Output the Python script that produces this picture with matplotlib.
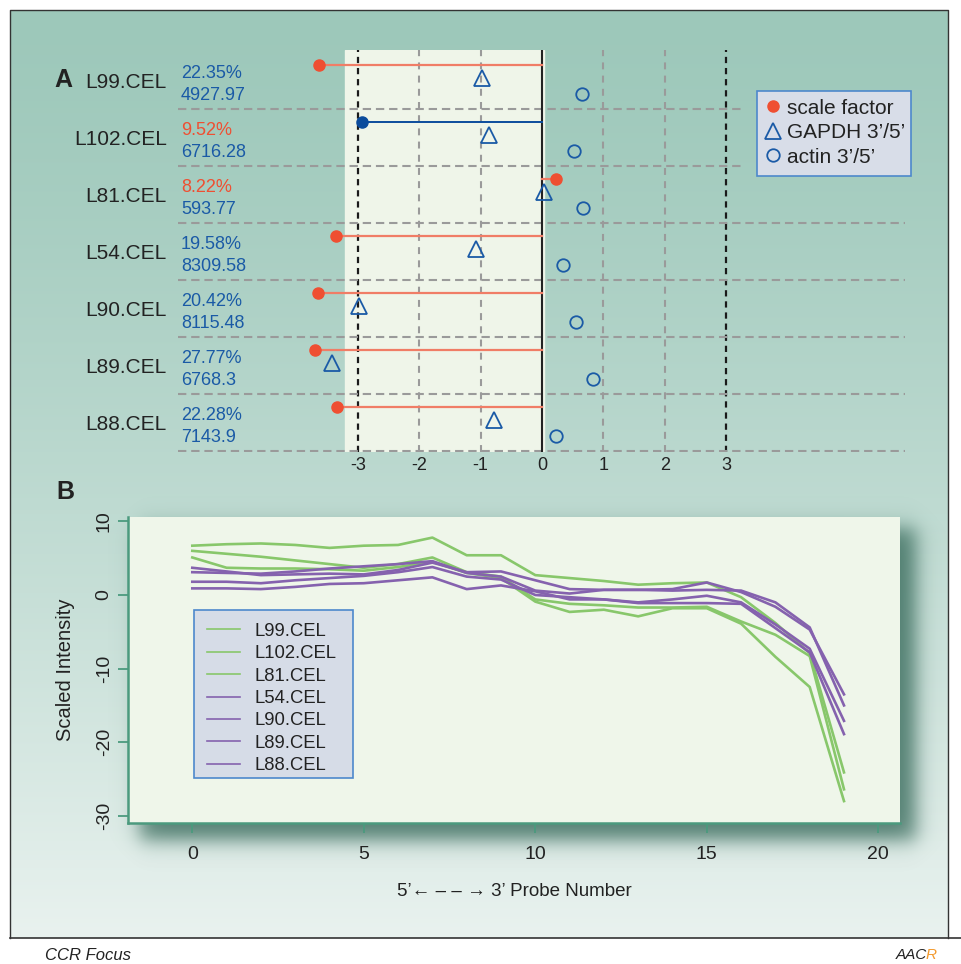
import numpy as np
import matplotlib
matplotlib.use('Agg')
import matplotlib.pyplot as plt
from matplotlib.colors import to_rgb
from matplotlib.lines import Line2D
from matplotlib.patches import Rectangle

plt.rcParams['font.family'] = ['Liberation Sans', 'DejaVu Sans']
plt.rcParams['axes.unicode_minus'] = False
plt.rcParams['lines.scale_dashes'] = False

# ---- panel A data ----
samples = ['L99.CEL', 'L102.CEL', 'L81.CEL', 'L54.CEL', 'L90.CEL', 'L89.CEL', 'L88.CEL']
pct_present = [22.35, 9.52, 8.22, 19.58, 20.42, 27.77, 22.28]
background = ['4927.97', '6716.28', '593.77', '8309.58', '8115.48', '6768.3', '7143.9']
scale_factor = [-3.64, -2.93, 0.23, -3.36, -3.65, -3.70, -3.34]
gapdh = [-0.98, -0.87, 0.04, -1.08, -2.99, -3.43, -0.79]
actin = [0.65, 0.52, 0.67, 0.35, 0.55, 0.83, 0.23]
sf_ok = [False, True, False, False, False, False, False]

# ---- panel B data ----
probe = list(range(20))
intensity = {
    'L99.CEL':  [6.7, 6.9, 7.0, 6.8, 6.4, 6.7, 6.8, 7.8, 5.4, 5.4, 2.7, 2.3, 1.9, 1.4, 1.6, 1.7, -0.3, -3.8, -7.9, -24.1],
    'L102.CEL': [6.0, 5.6, 5.2, 4.7, 4.2, 3.7, 4.2, 5.1, 3.1, 2.5, -0.6, -1.2, -1.4, -1.7, -1.7, -1.6, -3.6, -5.4, -8.3, -26.4],
    'L81.CEL':  [5.1, 3.7, 3.6, 3.6, 3.5, 3.3, 3.8, 4.5, 3.0, 2.3, -0.9, -2.3, -2.0, -2.9, -1.8, -1.8, -3.9, -8.4, -12.5, -28.0],
    'L54.CEL':  [3.7, 3.2, 2.7, 2.8, 2.9, 2.8, 3.4, 4.4, 3.1, 3.2, 2.0, 0.8, 0.7, 0.7, 0.8, 1.7, 0.4, -1.6, -4.7, -13.5],
    'L90.CEL':  [3.1, 3.0, 2.9, 3.2, 3.6, 3.9, 4.2, 4.6, 3.0, 2.5, 0.6, 0.2, 0.7, 0.7, 0.6, 0.7, 0.6, -1.0, -4.4, -15.0],
    'L89.CEL':  [1.8, 1.8, 1.6, 2.0, 2.3, 2.6, 3.1, 3.8, 2.5, 2.1, 0.0, -0.3, -0.6, -1.0, -0.6, -0.1, -1.0, -4.0, -7.3, -17.1],
    'L88.CEL':  [0.9, 0.9, 0.8, 1.1, 1.5, 1.6, 2.0, 2.4, 0.8, 1.3, 0.5, -0.6, -0.6, -1.1, -1.1, -1.1, -1.2, -4.5, -7.8, -18.9],
}
line_colors = ['#88c76b'] * 3 + ['#8562ae'] * 4

red = '#ef4f32'
red_line = '#f07d66'
blue = '#1a5aa6'
dark_blue = '#0b4c9c'

W, H = 961, 964
fig = plt.figure(figsize=(W / 100, H / 100), dpi=100)
fig.patch.set_facecolor('white')


def px_box(x0, y0, x1, y1):
    # figure-fraction rectangle from pixel corners (y measured from the top)
    return (x0 / W, 1 - y1 / H, (x1 - x0) / W, (y1 - y0) / H)


# background layer in pixel coordinates
bg = fig.add_axes([0, 0, 1, 1], zorder=0)
top = np.array(to_rgb('#9dc8ba'))
bot = np.array(to_rgb('#e9f2ef'))
t = (np.linspace(0, 1, 256) ** 1.3)[:, None, None]
grad = top + (bot - top) * t
bg.imshow(grad, extent=(10, 948, 938, 10), aspect='auto', interpolation='bilinear')

# drop shadow behind panel B
yy, xx = np.mgrid[0:H, 0:W] + 0.5
def ramp(v, a, b, s):
    return 1 / (1 + np.exp(-(v - a) / s)) / (1 + np.exp((v - b) / s))
shadow = np.zeros((H, W, 4))
shadow[..., :3] = to_rgb('#3b6d5e')
shadow[..., 3] = ramp(xx, 140, 916, 6) * ramp(yy, 528, 840, 6) * 0.85
bg.imshow(shadow, extent=(0, W, H, 0), aspect='auto')

bg.plot([10, 10, 948, 948], [938, 10, 10, 938], color='#333333', lw=1)
bg.plot([10, W], [938, 938], color='#333333', lw=1.2)
bg.set_xlim(0, W)
bg.set_ylim(H, 0)
bg.axis('off')

bg.text(63, 80, 'A', fontsize=18, fontweight='bold', ha='center', va='center', color='#222222')
bg.text(65, 492, 'B', fontsize=18, fontweight='bold', ha='center', va='center', color='#222222')
bg.text(45, 955, 'CCR Focus', fontsize=12, style='italic', va='center', color='#222222')
bg.text(896, 955, 'AAC', fontsize=11, style='italic', va='center', color='#222222')
bg.text(926, 955, 'R', fontsize=11, style='italic', va='center', color='#f39a2e')

# ---- panel A ----
axA = fig.add_axes(px_box(178, 50, 905, 452), zorder=2)
axA.set_facecolor('none')
axA.set_xlim((178 - 542) / 61.33, (905 - 542) / 61.33)
axA.set_ylim((452 - 80.5) / 57, (50 - 80.5) / 57)
for s in axA.spines.values():
    s.set_visible(False)

axA.axvspan(-3.21, 0.03, color='#eff5e9', zorder=0)
for v in [-2, -1, 1, 2]:
    axA.axvline(v, color='#9a9a9a', lw=1.5, ls=(0, (5, 4.5)), zorder=1)
for v in [-3, 3]:
    axA.axvline(v, color='#1a1a1a', lw=1.6, ls=(0, (4.5, 3.5)), zorder=1)
axA.axvline(0, color='#222222', lw=1.5, zorder=2)
rows = np.arange(len(samples))
for r in rows:
    xmax = (745 - 178) / 727 if r < 2 else 1
    axA.axhline(r + 0.5, xmax=xmax, color='#9a9a9a', lw=1.5, ls=(0, (6, 3.5)), zorder=1)

for r, sf, ok in zip(rows, scale_factor, sf_ok):
    axA.plot([0, sf], [r - 0.28, r - 0.28], color=dark_blue if ok else red_line,
             lw=1.4 if ok else 1.6, zorder=3)
    axA.plot(sf, r - 0.28, 'o', color=dark_blue if ok else red, ms=8, zorder=4)
axA.plot(gapdh, rows - 0.05, '^', ls='none', mfc='none', mec=blue, ms=11, mew=1.3, zorder=4)
axA.plot(actin, rows + 0.245, 'o', ls='none', mfc='none', mec=blue, ms=9, mew=1.3, zorder=4)

axA.set_yticks(rows)
axA.set_yticklabels(samples, fontsize=15, color='#222222')
axA.set_xticks(range(-3, 4))
axA.set_xticklabels([str(v) for v in range(-3, 4)], fontsize=13, color='#222222')
axA.tick_params(axis='y', length=0, pad=8)
axA.tick_params(axis='x', length=0, pad=3.5)

tr = axA.get_yaxis_transform()
for r, p, b in zip(rows, pct_present, background):
    axA.text(0.004, r - 0.13, f'{p:.2f}%', transform=tr, fontsize=13, va='center',
             color=red if p < 10 else blue)
    axA.text(0.004, r + 0.27, b, transform=tr, fontsize=13, va='center', color=blue)

axA.add_patch(Rectangle(px_box(757, 91, 911, 176)[:2], *px_box(757, 91, 911, 176)[2:],
                        transform=fig.transFigure, facecolor='#d8dde8',
                        edgecolor='#4d88cc', lw=1.2, zorder=4.5, clip_on=False))
handlesA = [
    Line2D([], [], marker='o', ls='none', color=red, ms=8),
    Line2D([], [], marker='^', ls='none', mfc='none', mec=blue, ms=11, mew=1.3),
    Line2D([], [], marker='o', ls='none', mfc='none', mec=blue, ms=9, mew=1.3),
]
legA = axA.legend(handlesA, ['scale factor', 'GAPDH 3\u2019/5\u2019', 'actin 3\u2019/5\u2019'],
                  loc='upper left', bbox_to_anchor=(757 / W, 1 - 91 / H),
                  bbox_transform=fig.transFigure, frameon=False, fontsize=15,
                  handlelength=0.8, handletextpad=0.3, labelspacing=0.27,
                  borderpad=0.36, borderaxespad=0)
for txt in legA.get_texts():
    txt.set_color('#222222')

# ---- panel B ----
axB = fig.add_axes(px_box(128, 517, 900, 822.7), zorder=2)
axB.set_facecolor('#eff6ea')
for (name, vals), col in zip(intensity.items(), line_colors):
    axB.plot(probe, vals, color=col, lw=1.9, label=name)
axB.set_xlim((128 - 192.3) / 34.3, (900 - 192.3) / 34.3)
axB.set_ylim((595 - 822.7) / 7.36, (595 - 517) / 7.36)
axB.spines['top'].set_visible(False)
axB.spines['right'].set_visible(False)
for side in ['left', 'bottom']:
    axB.spines[side].set_color('#4b9a7e')
    axB.spines[side].set_linewidth(1.8)
axB.set_xticks([0, 5, 10, 15, 20])
axB.set_yticks([10, 0, -10, -20, -30])
axB.set_yticklabels(['10', '0', '-10', '-20', '-30'], rotation=90, va='center')
axB.tick_params(axis='both', colors='#4b9a7e', labelcolor='#222222', labelsize=14,
                length=7, width=1.3)
axB.tick_params(axis='x', pad=10)
axB.tick_params(axis='y', pad=4)
axB.set_ylabel('Scaled Intensity', fontsize=14.5, color='#222222', labelpad=15)
axB.set_xlabel('5\u2019\u2190 \u2013 \u2013 \u2192 3\u2019 Probe Number', fontsize=13.5,
               color='#222222', labelpad=14)

axB.add_patch(Rectangle(px_box(194, 610, 353, 778)[:2], *px_box(194, 610, 353, 778)[2:],
                        transform=fig.transFigure, facecolor='#d6dce7',
                        edgecolor='#4d88cc', lw=1.2, zorder=4.5, clip_on=False))
handlesB = [Line2D([], [], color=c, lw=1.2) for c in line_colors]
legB = axB.legend(handlesB, list(intensity.keys()), loc='upper left',
                  bbox_to_anchor=(194 / W, 1 - 610 / H), bbox_transform=fig.transFigure,
                  frameon=False, fontsize=13.3, handlelength=1.8, handletextpad=0.75,
                  labelspacing=0.29, borderpad=0.7, borderaxespad=0)
for txt in legB.get_texts():
    txt.set_color('#222222')

fig.savefig('out.png', dpi=100, facecolor=fig.get_facecolor())
